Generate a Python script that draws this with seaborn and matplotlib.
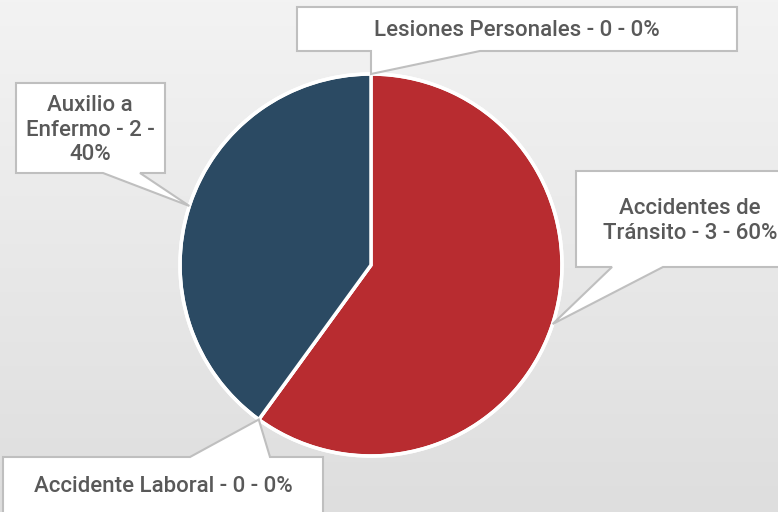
import textwrap

import matplotlib
matplotlib.use("Agg")
import matplotlib.pyplot as plt
import numpy as np
import seaborn as sns
from matplotlib.patches import Polygon

# data
categories = ["Lesiones Personales", "Accidentes de Tránsito", "Accidente Laboral", "Auxilio a Enfermo"]
counts = [0, 3, 0, 2]
colors = ["#7F7F7F", "#B82C30", "#8C8C8C", "#2B4A63"]
wrap_widths = [40, 18, 40, 13]

# callout layout in pixels (x0, y0, x1, y1), pointer base on box edge, text centre
boxes = [(297, 7, 737, 51), (576, 171, 805, 267), (3, 457, 323, 520), (16, 83, 165, 173)]
pointer_base = [(371, 480), (612, 663), (190, 270), (103, 140)]
text_pos = [(517, 30), (690, 221), (163, 487), (90, 130)]

W, H = 778, 512
center = (371, 265)
radius = 191

sns.set_theme(style="white")
plt.rcParams["font.family"] = ["Roboto", "DejaVu Sans"]

fig = plt.figure(figsize=(W / 100, H / 100), dpi=100)

# gradient background
bg = fig.add_axes([0, 0, 1, 1], zorder=0)
grad = np.linspace(0, 1, 256).reshape(-1, 1)
bg.imshow(grad, cmap=matplotlib.colors.LinearSegmentedColormap.from_list("bg", ["#F3F3F3", "#DEDEDE"]),
          aspect="auto", extent=[0, 1, 0, 1], origin="upper")
bg.axis("off")

ax = fig.add_axes([0, 0, 1, 1], zorder=1)
ax.patch.set_alpha(0)

total = sum(counts)
wedges, _ = ax.pie(counts, colors=colors, startangle=-90, counterclock=True,
                   center=center, radius=radius,
                   wedgeprops=dict(edgecolor="white", linewidth=2.5))
# white outline around the pie
ax.add_patch(plt.Circle(center, radius, fill=False, edgecolor="white", linewidth=2.5, zorder=3))

ax.set_xlim(0, W)
ax.set_ylim(H, 0)
ax.set_aspect("equal")
ax.axis("off")

for w, cat, n, box, base, tp, ww in zip(wedges, categories, counts, boxes, pointer_base, text_pos, wrap_widths):
    mid = np.deg2rad((w.theta1 + w.theta2) / 2)
    tip = (center[0] + radius * np.cos(mid), center[1] + radius * np.sin(mid))
    x0, y0, x1, y1 = box
    if tip[1] > y1:  # pointer below box
        verts = [(x0, y0), (x1, y0), (x1, y1), (base[1], y1), tip, (base[0], y1), (x0, y1)]
    else:  # pointer above box
        verts = [(x0, y0), (base[0], y0), tip, (base[1], y0), (x1, y0), (x1, y1), (x0, y1)]
    ax.add_patch(Polygon(verts, closed=True, facecolor="white", edgecolor="#BFBFBF",
                         linewidth=1.5, zorder=4))
    pct = round(100 * n / total)
    label = textwrap.fill(f"{cat} - {n} - {pct}%", ww)
    ax.text(tp[0], tp[1], label, ha="center", va="center", fontsize=16, fontweight="medium",
            color="#595959", linespacing=1.2, zorder=5)

fig.savefig("out.png", dpi=100)
